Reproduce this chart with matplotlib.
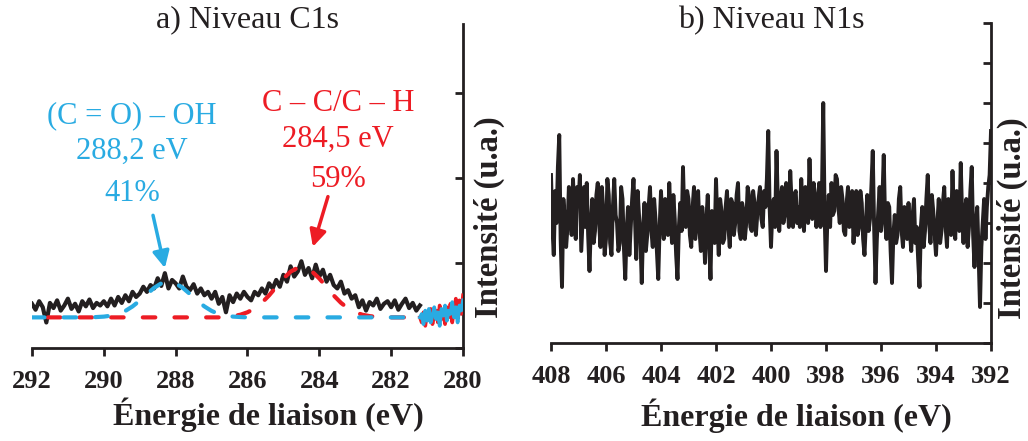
import numpy as np
import matplotlib
matplotlib.use("Agg")
import matplotlib.pyplot as plt

plt.rcParams['font.family'] = ['Liberation Serif', 'DejaVu Serif']

INK = '#231f20'
BLUE = '#29abe2'
RED = '#ed1c24'

# --- C1s : mesure (292.0 -> 281.2 eV, pas 0.1 eV)
c1s_energy = np.linspace(292.0, 281.2, 109)
c1s_counts = [
    0.52, 0.45, 0.55, 0.48, 0.30, 0.53, 0.47, 0.56, 0.44, 0.50,
    0.58, 0.46, 0.52, 0.43, 0.55, 0.49, 0.57, 0.47, 0.53, 0.50,
    0.55, 0.49, 0.58, 0.50, 0.60, 0.53, 0.62, 0.55, 0.66, 0.60,
    0.64, 0.72, 0.66, 0.74, 0.70, 0.82, 0.73, 0.88, 0.70, 0.80,
    0.76, 0.70, 0.84, 0.72, 0.68, 0.75, 0.64, 0.70, 0.62, 0.66,
    0.58, 0.66, 0.52, 0.60, 0.42, 0.62, 0.54, 0.64, 0.58, 0.66,
    0.60, 0.56, 0.66, 0.62, 0.70, 0.64, 0.76, 0.70, 0.80, 0.72,
    0.86, 0.78, 0.96, 0.84, 0.90, 1.02, 0.86, 0.94, 0.82, 0.98,
    0.84, 0.92, 0.78, 0.86, 0.74, 0.70, 0.78, 0.64, 0.68, 0.58,
    0.62, 0.48, 0.56, 0.44, 0.54, 0.50, 0.58, 0.46, 0.52, 0.55,
    0.48, 0.56, 0.45, 0.52, 0.58, 0.47, 0.53, 0.44, 0.50,
]

# --- C1s : composantes ajustees (pas 0.2 eV)
fit_energy = np.linspace(292.0, 281.2, 55)
fit_cooh = [
    0.36, 0.36, 0.36, 0.36, 0.36, 0.36, 0.36, 0.36, 0.36, 0.364,
    0.369, 0.38, 0.40, 0.436, 0.489, 0.557, 0.634, 0.707, 0.76, 0.78,
    0.76, 0.707, 0.634, 0.557, 0.489, 0.436, 0.40, 0.38, 0.369, 0.364,
    0.36, 0.36, 0.36, 0.36, 0.36, 0.36, 0.36, 0.36, 0.36, 0.36,
    0.36, 0.36, 0.36, 0.36, 0.36, 0.36, 0.36, 0.36, 0.36, 0.36,
    0.36, 0.36, 0.36, 0.36, 0.36,
]
fit_cc = [
    0.36, 0.36, 0.36, 0.36, 0.36, 0.36, 0.36, 0.36, 0.36, 0.36,
    0.36, 0.36, 0.36, 0.36, 0.36, 0.36, 0.36, 0.36, 0.36, 0.36,
    0.36, 0.36, 0.36, 0.36, 0.36, 0.36, 0.36, 0.366, 0.375, 0.391,
    0.42, 0.465, 0.532, 0.618, 0.718, 0.817, 0.898, 0.944, 0.944, 0.898,
    0.817, 0.718, 0.618, 0.532, 0.465, 0.42, 0.391, 0.375, 0.366, 0.36,
    0.36, 0.36, 0.36, 0.36, 0.36,
]

# --- C1s : bout des composantes (281.2 -> 280.0 eV, pas 0.05 eV)
tail_energy = np.linspace(281.2, 280.0, 25)
tail_cc = [0.36, 0.30, 0.42, 0.26, 0.40, 0.33, 0.46, 0.28, 0.38, 0.44,
           0.30, 0.50, 0.34, 0.42, 0.28, 0.48, 0.36, 0.52, 0.30, 0.44,
           0.58, 0.34, 0.56, 0.40, 0.62]
tail_cooh = [0.36, 0.40, 0.28, 0.44, 0.32, 0.46, 0.30, 0.38, 0.48, 0.34,
             0.42, 0.26, 0.46, 0.38, 0.50, 0.32, 0.44, 0.40, 0.54, 0.36,
             0.48, 0.30, 0.50, 0.44, 0.56]

# --- N1s : mesure (408.0 -> 392.0 eV, pas 0.05 eV)
n1s_energy = np.linspace(408.0, 392.0, 321)
n1s_counts = [
    4.2, 2.9, 2.2, 3.8, 3.0, 4.4, 5.2, 2.6, 1.4, 3.6, 3.1, 2.4, 2.9, 3.9, 3.4, 2.7, 4.1, 3.2, 2.6, 3.9,
    3.5, 4.2, 2.3, 3.1, 3.9, 2.9, 4.0, 2.7, 1.8, 3.0, 3.6, 2.5, 2.8, 3.7, 4.0, 3.0, 2.4, 3.9, 3.3, 2.2,
    2.6, 4.1, 3.7, 2.5, 2.2, 3.4, 4.1, 3.2, 3.0, 2.3, 2.5, 3.9, 3.6, 2.4, 1.6, 2.8, 3.4, 2.2, 2.9, 3.6,
    4.1, 3.2, 2.1, 3.8, 3.2, 2.6, 1.5, 2.9, 3.5, 2.3, 2.7, 3.4, 3.9, 2.8, 2.4, 3.6, 3.1, 2.3, 1.6, 2.9,
    3.8, 3.0, 2.6, 3.6, 3.3, 2.7, 4.0, 3.2, 2.5, 3.7, 3.1, 2.2, 1.6, 2.9, 3.5, 2.8, 4.4, 3.1, 2.9, 3.8,
    3.6, 2.7, 2.4, 3.4, 3.9, 2.6, 3.2, 3.8, 2.8, 2.3, 3.4, 2.9, 2.0, 3.1, 3.7, 2.5, 1.6, 3.3, 3.0, 2.5,
    4.1, 3.0, 2.2, 3.6, 3.3, 2.5, 2.6, 3.4, 3.8, 2.9, 2.4, 3.6, 3.5, 2.7, 3.0, 3.7, 4.0, 2.8, 2.6, 3.5,
    3.3, 2.6, 3.0, 3.9, 3.7, 2.9, 2.8, 3.8, 3.5, 2.7, 3.2, 3.6, 3.9, 3.1, 2.9, 3.8, 3.4, 4.1, 5.3, 3.4,
    2.4, 3.3, 3.6, 2.9, 4.8, 3.5, 2.8, 3.6, 3.9, 3.0, 3.2, 4.0, 3.6, 2.9, 4.3, 3.5, 2.9, 3.7, 3.8, 3.0,
    3.4, 2.9, 4.1, 3.3, 2.8, 3.9, 3.6, 3.0, 4.6, 3.5, 3.1, 4.0, 3.7, 2.9, 3.3, 4.0, 2.9, 3.6, 6.0, 3.2,
    1.8, 3.1, 3.7, 2.9, 4.0, 3.2, 3.3, 4.2, 4.1, 3.4, 3.0, 3.9, 3.6, 2.8, 2.7, 3.5, 3.9, 2.9, 3.2, 3.8,
    2.5, 3.2, 3.8, 2.7, 2.9, 3.8, 3.5, 2.6, 2.2, 3.0, 3.7, 2.8, 3.1, 3.9, 4.8, 2.9, 1.5, 2.6, 3.3, 3.9,
    2.8, 3.6, 4.7, 3.0, 2.6, 3.5, 3.4, 2.3, 1.5, 2.7, 3.2, 2.5, 2.7, 3.6, 3.9, 2.8, 2.4, 3.4, 3.1, 2.6,
    3.5, 2.8, 2.3, 3.2, 3.6, 2.5, 2.9, 2.1, 1.4, 2.9, 3.4, 2.4, 2.8, 3.6, 4.2, 3.0, 2.5, 3.7, 3.3, 2.7,
    2.2, 3.0, 3.6, 2.5, 2.8, 3.5, 3.9, 2.9, 2.4, 3.6, 3.2, 2.7, 4.3, 3.1, 2.6, 3.8, 3.5, 2.8, 4.5, 3.2,
    2.5, 3.3, 3.6, 2.4, 2.9, 3.8, 4.4, 2.7, 1.9, 3.0, 3.4, 2.2, 0.9, 2.4, 3.0, 3.6, 2.6, 3.4, 3.9, 4.2,
    5.3,
]


def style_axis(ax, xmin, xmax, ymax, yticks):
    ax.set_xlim(xmin, xmax)
    ax.set_ylim(0, ymax)
    ax.spines['left'].set_visible(False)
    ax.spines['top'].set_visible(False)
    for s in ('bottom', 'right'):
        ax.spines[s].set_linewidth(2.0)
        ax.spines[s].set_color(INK)
    ax.set_xticks(np.arange(xmin, xmax - 1, -2))
    ax.set_yticks(yticks)
    ax.yaxis.tick_right()
    ax.tick_params(axis='x', direction='out', length=6, width=2.0,
                   color=INK, labelsize=19, pad=10, labelcolor=INK)
    ax.tick_params(axis='y', direction='in', length=6, width=2.0,
                   color=INK, labelright=False)
    for lab in ax.get_xticklabels():
        lab.set_fontweight('bold')
    ax.set_xlabel('Énergie de liaison (eV)', fontsize=23,
                  fontweight='bold', color=INK)
    ax.yaxis.set_label_position('right')
    ax.set_ylabel('Intensité (u.a.)', fontsize=23.5, fontweight='bold',
                  color=INK, rotation=90)


fig = plt.figure(figsize=(10.28, 4.41), dpi=100)
ax1 = fig.add_axes([0.0311, 0.2109, 0.4193, 0.7347])
ax2 = fig.add_axes([0.5360, 0.2222, 0.4280, 0.7256])

# panneau a
ax1.plot(c1s_energy, c1s_counts, color=INK, lw=3.0, zorder=2)
ax1.plot(fit_energy, fit_cc, color=RED, lw=3,
         linestyle=(3.8, (3, 4.6)), dash_capstyle='round', zorder=3)
ax1.plot(fit_energy, fit_cooh, color=BLUE, lw=3,
         linestyle=(0, (3, 4.6)), dash_capstyle='round', zorder=4)
ax1.plot(tail_energy, tail_cc, color=RED, lw=2.6, zorder=3)
ax1.plot(tail_energy, tail_cooh, color=BLUE, lw=2.6, zorder=4)
style_axis(ax1, 292, 280, 3.81, [0, 1, 2, 3])
ax1.text(0.5, 1.012, 'a) Niveau C1s', fontsize=23, color=INK,
         ha='center', va='center', transform=ax1.transAxes)
ax1.xaxis.set_label_coords(0.548, -0.153)
ax1.yaxis.set_label_coords(1.025, 0.404)

for txt, y in zip(['(C = O) – OH', '288,2 eV', '41%'], [2.73, 2.31, 1.82]):
    ax1.text(289.22, y, txt, color=BLUE, fontsize=22, ha='center', va='center')
for txt, y in zip(['C – C/C – H', '284,5 eV', '59%'], [2.87, 2.45, 1.98]):
    ax1.text(283.48, y, txt, color=RED, fontsize=22, ha='center', va='center')
ax1.annotate('', xy=(288.30, 0.94), xytext=(288.63, 1.56),
             arrowprops=dict(arrowstyle='-|>', color=BLUE, lw=2.5,
                             mutation_scale=25, shrinkA=0, shrinkB=0))
ax1.annotate('', xy=(284.18, 1.19), xytext=(283.76, 1.78),
             arrowprops=dict(arrowstyle='-|>', color=RED, lw=2.5,
                             mutation_scale=25, shrinkA=0, shrinkB=0))

# panneau b
ax2.plot(n1s_energy, n1s_counts, color=INK, lw=2.8, zorder=2)
style_axis(ax2, 408, 392, 8, range(9))
ax2.text(0.5, 1.009, 'b) Niveau N1s', fontsize=23, color=INK,
         ha='center', va='center', transform=ax2.transAxes)
ax2.xaxis.set_label_coords(0.557, -0.172)
ax2.yaxis.set_label_coords(1.014, 0.39)

fig.savefig('out.png', dpi=100)
